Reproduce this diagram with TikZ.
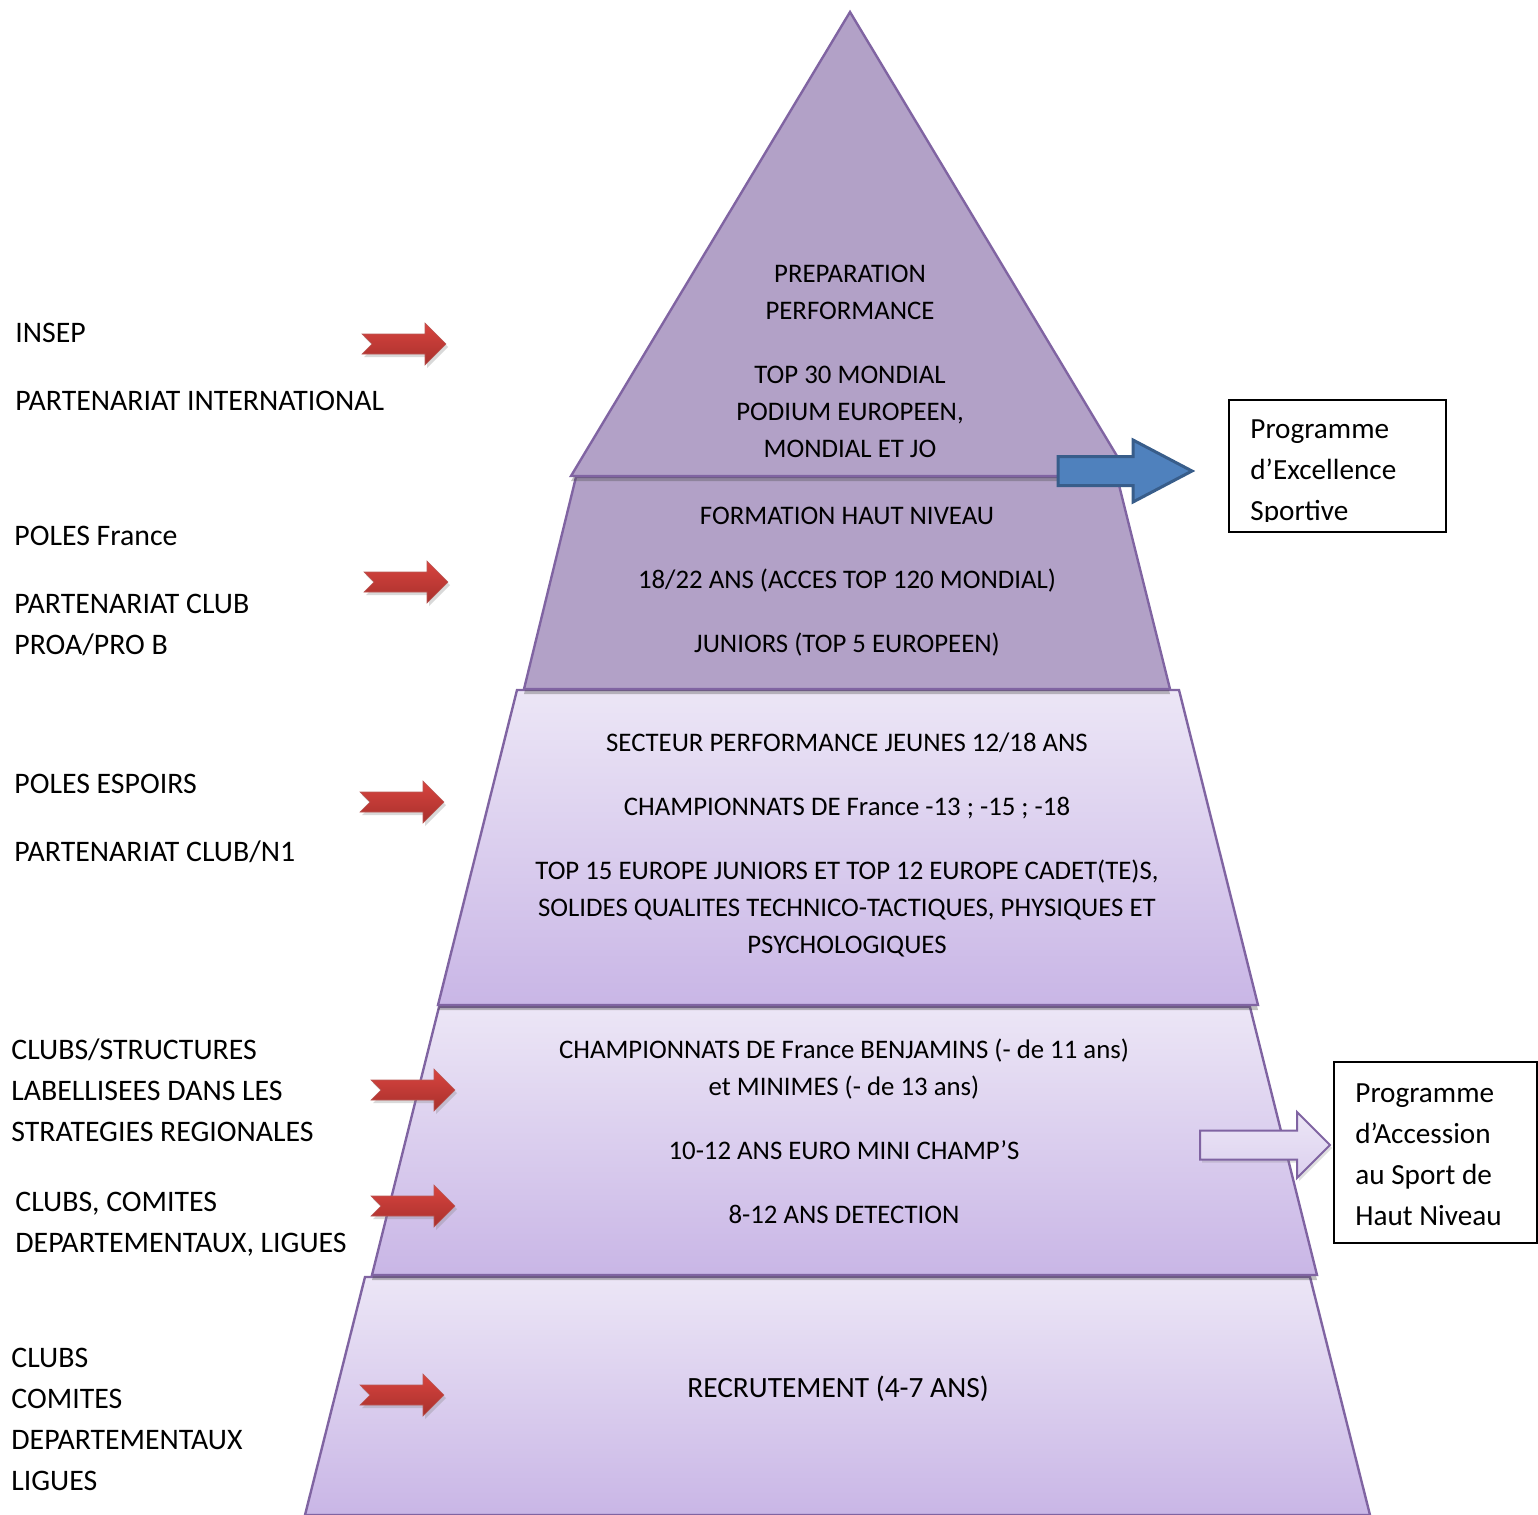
\documentclass[tikz,border=0pt]{standalone}
\usepackage{fontspec}
\setmainfont{Carlito}
\usetikzlibrary{shadows}

\definecolor {pyrline}{HTML}{8064A2}
\definecolor {pyrdark}{HTML}{B2A1C7}
\definecolor {pyrlight}{HTML}{ECE6F6}
\definecolor {pyrdeep}{HTML}{C9B6E6}
\definecolor {bluefill}{HTML}{4F81BD}
\definecolor {blueline}{HTML}{385D8A}
\definecolor {redtop}{HTML}{D8443F}
\definecolor {redmid}{HTML}{F49A96}
\definecolor {redbot}{HTML}{A8302C}
\tikzstyle{seg} = [draw=pyrline, line width=1.2pt, drop shadow={shadow xshift=0pt, shadow yshift=-2.5pt, opacity=.35, fill=black!70}]
\tikzstyle{darkseg} = [seg, fill=pyrdark]
\tikzstyle{lightseg} = [seg, top color=pyrlight, bottom color=pyrdeep]

\begin{document}
\begin{tikzpicture}[x=0.5pt, y=-0.5pt,
			midtxt/.style = {align=center, inner sep=0pt, font=\fontsize{13.4}{18.5}\selectfont},
			lefttxt/.style = {anchor=west, align=left, inner sep=0pt, font=\fontsize{14.9}{20.5}\selectfont},
			boxtxt/.style = {lefttxt, font=\fontsize{14.6}{20.5}\selectfont},
			progbox/.style = {draw, line width=1pt, inner sep=0pt},
			redarrow/.pic = {
				\path[draw=redbot!80, line width=0.3pt, top color=redtop, middle color=redmid, bottom color=redbot,
					drop shadow={shadow xshift=1pt, shadow yshift=-1.5pt, opacity=.3}]
				(0,-10) -- (63,-10) -- (63,-21) -- (84,0) -- (63,21) -- (63,10) -- (0,10) -- (10,0) -- cycle;
			}]
			\useasboundingbox (0,0) rectangle (1538,1515);
			
			% pyramid, bottom first
			\path[lightseg] (365,1277) -- (1310,1277) -- (1370,1515) -- (305,1515) -- cycle;
			\path[lightseg] (439,1007) -- (1250,1007) -- (1317,1275) -- (372,1275) -- cycle;
			\path[lightseg] (517,690) -- (1179,690) -- (1258,1005) -- (438,1005) -- cycle;
			\path[darkseg] (576,477) -- (1117,477) -- (1170,689) -- (524,689) -- cycle;
			\path[darkseg] (850,12) -- (1129,476) -- (571,476) -- cycle;
			
			\node (prep)[midtxt] at (850,361) {PREPARATION\\PERFORMANCE\\[13.5pt]TOP 30 MONDIAL\\PODIUM EUROPEEN,\\MONDIAL ET JO};
			\node (form)[midtxt] at (847,582) {FORMATION HAUT NIVEAU\\[13.5pt]18/22 ANS (ACCES TOP 120 MONDIAL)\\[13.5pt]JUNIORS (TOP 5 EUROPEEN)};
			\node (secteur)[midtxt] at (847,845) {SECTEUR PERFORMANCE JEUNES 12/18 ANS\\[13.5pt]CHAMPIONNATS DE France -13 ; -15 ; -18\\[13.5pt]TOP 15 EUROPE JUNIORS ET TOP 12 EUROPE CADET(TE)S,\\SOLIDES QUALITES TECHNICO-TACTIQUES, PHYSIQUES ET\\PSYCHOLOGIQUES};
			\node (benj)[midtxt] at (844,1131) {CHAMPIONNATS DE France BENJAMINS (- de 11 ans)\\et MINIMES (- de 13 ans)\\[13.5pt]10-12 ANS EURO MINI CHAMP’S\\[13.5pt]8-12 ANS DETECTION};
			\node (recru)[midtxt, font=\fontsize{14.7}{18.5}\selectfont] at (838,1389) {RECRUTEMENT (4-7 ANS)};
			
			% left side
			\node (insep)[lefttxt] at (15,367) {INSEP\\[13.5pt]PARTENARIAT INTERNATIONAL};
			\node (poles)[lefttxt] at (14,591) {POLES France\\[13.5pt]PARTENARIAT CLUB\\PROA/PRO B};
			\node (espoirs)[lefttxt] at (14,818) {POLES ESPOIRS\\[13.5pt]PARTENARIAT CLUB/N1};
			\node (struct)[lefttxt] at (11,1090) {CLUBS/STRUCTURES\\LABELLISEES DANS LES\\STRATEGIES REGIONALES};
			\node (comites)[lefttxt] at (15,1224) {CLUBS, COMITES\\DEPARTEMENTAUX, LIGUES};
			\node (clubs)[lefttxt] at (11,1419) {CLUBS\\COMITES\\DEPARTEMENTAUX\\LIGUES};
			
			\pic at (362,344) {redarrow};
			\pic at (364,582) {redarrow};
			\pic at (360,802) {redarrow};
			\pic at (371,1090) {redarrow};
			\pic at (371,1206) {redarrow};
			\pic at (360,1395) {redarrow};
			
			% right side
			\draw[shift={(1058,471)}, fill=bluefill, draw=blueline, line width=1.5pt]
				(0,-14.5) -- (75,-14.5) -- (75,-31) -- (134,0) -- (75,31) -- (75,14.5) -- (0,14.5) -- cycle;
			\draw[shift={(1200,1145)}, top color=pyrlight, bottom color=pyrlight!55!pyrdeep, draw=pyrline, line width=1pt,
				drop shadow={shadow xshift=1pt, shadow yshift=-1.5pt, opacity=.25}]
				(0,-14.5) -- (97,-14.5) -- (97,-33) -- (130,0) -- (97,33) -- (97,14.5) -- (0,14.5) -- cycle;
			
			\begin{scope}
				\clip (1229,400) rectangle (1446,521);
				\node (excel)[boxtxt] at (1250,472) {Programme\\d’Excellence\\Sportive};
			\end{scope}
			\node (excelbox)[progbox, minimum width=108.5pt, minimum height=66pt] at (1337.5,466) {};
			\node (access)[boxtxt] at (1355,1155) {Programme\\d’Accession\\au Sport de\\Haut Niveau};
			\node (accessbox)[progbox, minimum width=101.5pt, minimum height=90.5pt] at (1435.5,1152.5) {};
		\end{tikzpicture}
\end{document}
